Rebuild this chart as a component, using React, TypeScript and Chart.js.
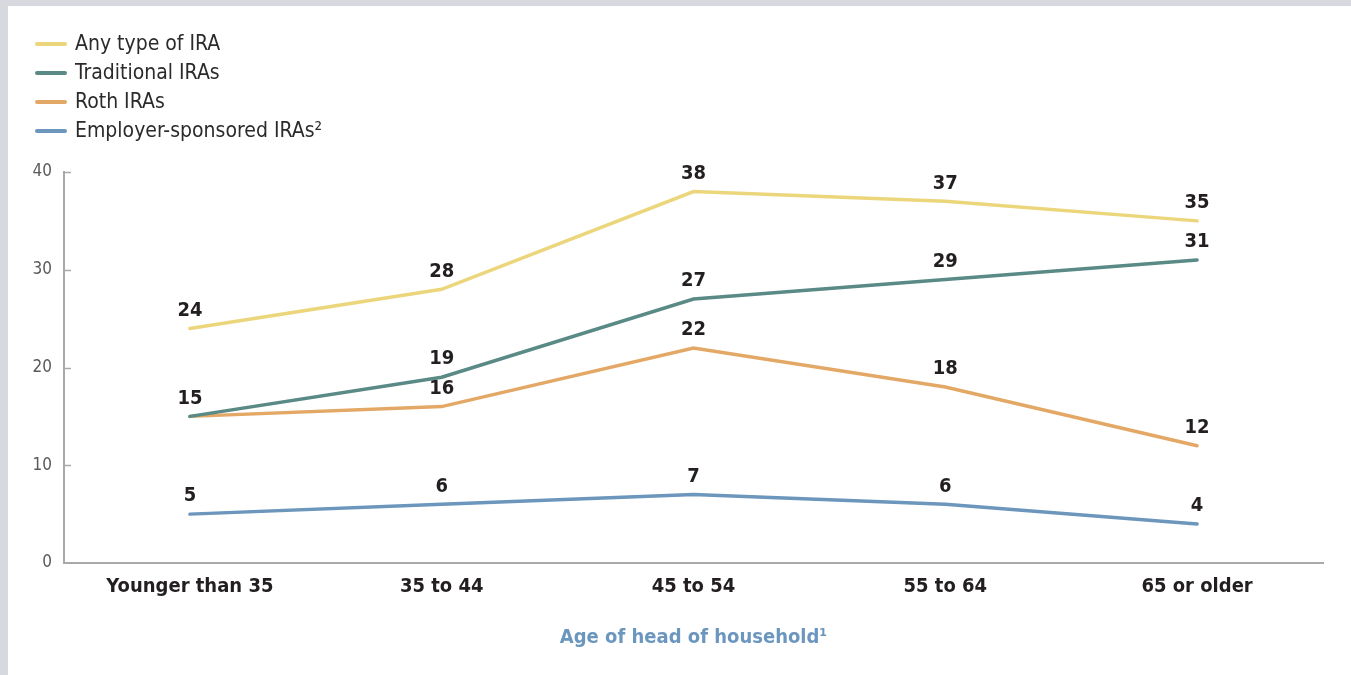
import React, { useEffect, useRef } from "react";
import { Chart, registerables } from "chart.js";

Chart.register(...registerables);

const categories = ["Younger than 35", "35 to 44", "45 to 54", "55 to 64", "65 or older"];
const anyIRA = [24, 28, 38, 37, 35];
const traditionalIRA = [15, 19, 27, 29, 31];
const rothIRA = [15, 16, 22, 18, 12];
const employerIRA = [5, 6, 7, 6, 4];
const yTicks = [0, 10, 20, 30, 40];

const seriesNames = ["Any type of IRA", "Traditional IRAs", "Roth IRAs", "Employer-sponsored IRAs²"];
const seriesColors = ["#ecd67c", "#5a8a85", "#e4a866", "#6c96bc"];
const FONT = '"Liberation Sans Narrow", "DejaVu Sans Condensed", "Roboto", sans-serif';

const labelPlugin = {
  id: "valueLabels",
  afterDatasetsDraw(chart: any) {
    const ctx = chart.ctx;
    ctx.save();
    ctx.font = `bold 20px ${FONT}`;
    ctx.fillStyle = "#231f20";
    ctx.textAlign = "center";
    ctx.textBaseline = "middle";
    const drawn = new Set<string>();
    chart.data.datasets.forEach((ds: any, i: number) => {
      const meta = chart.getDatasetMeta(i);
      meta.data.forEach((pt: any, j: number) => {
        const key = `${j}-${ds.data[j]}`;
        if (drawn.has(key)) return;
        drawn.add(key);
        ctx.fillText(String(ds.data[j]), pt.x, pt.y - 18);
      });
    });
    ctx.restore();
  },
};

const tickPlugin = {
  id: "inwardTicks",
  afterDraw(chart: any) {
    const ctx = chart.ctx;
    const y = chart.scales.y;
    const area = chart.chartArea;
    ctx.save();
    ctx.strokeStyle = "#a9a9a9";
    ctx.lineWidth = 1.5;
    yTicks.slice(1).forEach((v) => {
      const py = Math.round(y.getPixelForValue(v)) + 0.5;
      ctx.beginPath();
      ctx.moveTo(area.left, py);
      ctx.lineTo(area.left + 7, py);
      ctx.stroke();
    });
    ctx.restore();
  },
};

export default function App() {
  const canvasRef = useRef<HTMLCanvasElement | null>(null);

  useEffect(() => {
    document.body.style.background = "#d8d9de";
    const canvas = canvasRef.current!;
    const series = [anyIRA, traditionalIRA, rothIRA, employerIRA];
    const chart = new Chart(canvas, {
      type: "line",
      data: {
        labels: categories,
        datasets: series.map((d, i) => ({
          label: seriesNames[i],
          data: d,
          borderColor: seriesColors[i],
          backgroundColor: seriesColors[i],
          borderWidth: 3.5,
          borderCapStyle: "round",
          pointRadius: 0,
          tension: 0,
        })),
      },
      options: {
        responsive: false,
        animation: false,
        devicePixelRatio: 1,
        layout: { padding: { top: 166, right: 28, left: 0, bottom: 0 } },
        plugins: {
          legend: { display: false },
          tooltip: { enabled: false },
        },
        scales: {
          x: {
            offset: true,
            grid: { display: false, drawTicks: false },
            border: { display: true, color: "#a9a9a9", width: 2 },
            ticks: {
              color: "#231f20",
              font: { family: FONT, size: 20, weight: "bold" },
              padding: 12,
            },
            title: {
              display: true,
              text: "Age of head of household¹",
              color: "#6b97bf",
              font: { family: FONT, size: 20, weight: "bold" },
              padding: { top: 0, bottom: 25 },
            },
            afterFit: (s: any) => {
              s.height = 112;
            },
          },
          y: {
            min: 0,
            max: 40,
            grid: { display: false, drawTicks: false },
            border: { display: true, color: "#a9a9a9", width: 2 },
            ticks: {
              stepSize: 10,
              color: "#5a5a5a",
              font: { family: FONT, size: 17 },
              padding: 12,
            },
            afterFit: (s: any) => {
              s.width = 56;
            },
          },
        },
      },
      plugins: [labelPlugin, tickPlugin],
    } as any);
    return () => chart.destroy();
  }, []);

  return (
    <div
      style={{
        position: "absolute",
        left: 8,
        top: 6,
        width: 1343,
        height: 669,
        background: "#ffffff",
        overflow: "hidden",
      }}
    >
      <canvas ref={canvasRef} width={1343} height={669} style={{ position: "absolute", left: 0, top: 0 }} />
      <div style={{ position: "absolute", left: 27, top: 23, fontFamily: FONT, fontSize: 21, color: "#2b2b2b" }}>
        {seriesNames.map((name, i) => (
          <div key={name} style={{ display: "flex", alignItems: "center", height: 29 }}>
            <div
              style={{
                width: 32,
                height: 4,
                borderRadius: 2,
                background: seriesColors[i],
                marginRight: 8,
              }}
            />
            <span style={{ lineHeight: "29px" }}>{name}</span>
          </div>
        ))}
      </div>
    </div>
  );
}
